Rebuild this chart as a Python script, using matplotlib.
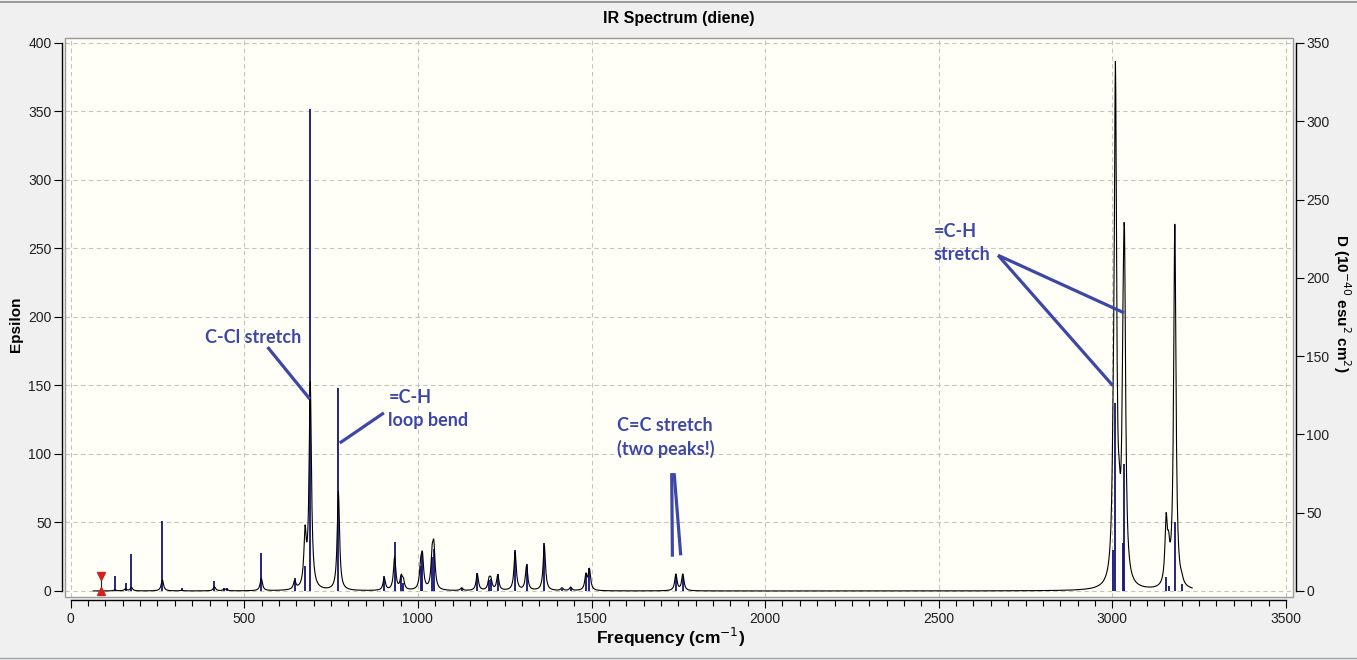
import numpy as np
import matplotlib
matplotlib.use("Agg")
import matplotlib.pyplot as plt
from matplotlib.patches import Rectangle
from matplotlib.ticker import MultipleLocator

plt.rcParams['font.family'] = ['Liberation Sans', 'DejaVu Sans']

# ---------------- data ----------------
# vibrational modes: frequency (cm^-1)
freqs = [127, 158, 175, 264, 320, 414, 442, 449, 549, 645, 675, 690, 771,
         903, 933, 952, 958, 1008, 1013, 1041, 1046, 1126, 1171, 1205, 1210,
         1230, 1280, 1313, 1364, 1415, 1440, 1484, 1494, 1743, 1763,
         3003, 3009, 3020, 3031, 3035, 3155, 3162, 3180, 3200]
# broadened-curve peak height of each mode (Epsilon)
curve_amp = [0.8, 1.5, 2.5, 8, 0.5, 3, 1, 1, 9, 6, 38, 150, 72,
             9, 24, 9, 6, 15, 22, 22, 28, 2, 12, 7, 7,
             11, 28, 18, 33, 2, 2.5, 11, 15, 12, 12,
             50, 360, 25, 100, 205, 45, 20, 265, 3]
# stick heights, dipole strength D (10^-40 esu^2 cm^2)
stick_D = [9.6, 5.3, 23.6, 44.6, 1.8, 6.1, 2.2, 2.2, 24.5, 8.3, 15.8, 308, 129.5,
           9.6, 31.5, 9.6, 5.3, 15.8, 23.6, 21.9, 27.1, 1.8, 11.4, 7.0, 7.9,
           10.9, 26.3, 17.5, 30.6, 1.3, 1.8, 11.4, 14.9, 9.6, 9.6,
           26.3, 120, 0.0, 30.6, 81, 9.2, 3.0, 43.8, 4.4]
half_width = 4.0          # cm^-1, Lorentzian half width
curve_range = (65, 3230)  # cm^-1

marker_freq = 87
marker_top = 11

x_ticks = [0, 500, 1000, 1500, 2000, 2500, 3000, 3500]
y_ticks_left = [0, 50, 100, 150, 200, 250, 300, 350, 400]
y_ticks_right = [0, 50, 100, 150, 200, 250, 300, 350]

# annotations: text, text anchor (freq, eps), line segments [(f0,e0),(f1,e1)]
ann_texts = ["C-Cl stretch", "=C-H\nloop bend", "C=C stretch\n(two peaks!)", "=C-H\nstretch"]
ann_pos = [(388, 185), (915, 133), (1574, 112), (2486, 254)]
ann_lines = [
    [[(567, 178), (689, 140)]],
    [[(902, 130), (775, 108)]],
    [[(1731, 86), (1733, 25)], [(1738, 86), (1757, 26)]],
    [[(2671, 245), (3034, 203)], [(2671, 245), (3001, 150)]],
]

# ---------------- figure ----------------
W, H = 1357, 660
fig = plt.figure(figsize=(W / 100, H / 100), dpi=100, facecolor='#F0F0F0')
L, R, T, B = 65, 1293, 38, 597
ax = fig.add_axes([L / W, (H - B) / H, (R - L) / W, (B - T) / H])
ax.set_facecolor('#FFFFF7')
ax2 = ax.twinx()

xlim = (-16.4, 3520.4)
ylim = (-4.4, 403.6)
ax.set_xlim(*xlim)
ax.set_ylim(*ylim)
ax2.set_ylim(ylim[0] * 0.875, ylim[1] * 0.875)

# curve
x = np.arange(curve_range[0], curve_range[1] + 1, 1.0)
y = np.zeros_like(x)
for f, a in zip(freqs, curve_amp):
    y += a * half_width ** 2 / ((x - f) ** 2 + half_width ** 2)

ax.grid(True, color='#C4C4C4', linestyle=(0, (4, 3)), linewidth=0.8)
ax.set_axisbelow(True)

ax2.vlines(freqs, 0, stick_D, color='#14147A', linewidth=1.3, zorder=2)
ax2.plot(x, y, color='black', linewidth=0.8, transform=ax.transData, zorder=3)

# red marker
ax2.plot([marker_freq, marker_freq], [0, marker_top], color='#222222', lw=0.8,
         transform=ax.transData, zorder=4)
ax2.plot([marker_freq], [marker_top], marker='v', color='#D02020', ms=6,
         transform=ax.transData, zorder=4, clip_on=False)
ax2.plot([marker_freq], [0], marker='^', color='#D02020', ms=6,
         transform=ax.transData, zorder=4, clip_on=False)

# annotations
acol = '#3D47A7'
for txt, (tx, ty), segs in zip(ann_texts, ann_pos, ann_lines):
    ax2.text(tx, ty, txt, transform=ax.transData, color=acol, fontsize=13,
             fontweight='bold', family=['Lato', 'DejaVu Sans'], va='center',
             ha='left', linespacing=1.4, zorder=6)
    for (f0, e0), (f1, e1) in segs:
        ax2.plot([f0, f1], [e0, e1], color=acol, lw=2.3, transform=ax.transData,
                 zorder=5, solid_capstyle='butt')

# axes styling
for s in ['top', 'right', 'left', 'bottom']:
    ax2.spines[s].set_visible(False)
ax.spines['top'].set_visible(False)
ax.spines['right'].set_visible(False)
out = 3 * 72 / 100
ax.spines['left'].set_position(('outward', out))
ax.spines['bottom'].set_position(('outward', out))
ax.spines['left'].set_bounds(0, 400)
ax.spines['bottom'].set_bounds(0, 3500)
ax2.spines['right'].set_visible(True)
ax2.spines['right'].set_position(('outward', out))
ax2.spines['right'].set_bounds(0, 350)
for sp in [ax.spines['left'], ax.spines['bottom'], ax2.spines['right']]:
    sp.set_linewidth(1.0)
    sp.set_color('black')

ax2.add_patch(Rectangle((0, 0), 1, 1, transform=ax.transAxes, fill=False,
                        edgecolor='#9A9A9A', lw=1.0, clip_on=False, zorder=10))

ax.set_xticks(x_ticks)
ax.xaxis.set_minor_locator(MultipleLocator(50))
ax.set_yticks(y_ticks_left)
ax2.set_yticks(y_ticks_right)
ax.tick_params(axis='x', which='major', length=5.5, width=0.8, labelsize=10, pad=3)
ax.tick_params(axis='x', which='minor', length=4, width=0.8)
ax.tick_params(axis='y', length=5.5, width=0.8, labelsize=10, pad=2)
ax2.tick_params(axis='y', length=5.5, width=0.8, labelsize=10, pad=2)
for lab in ax.get_xticklabels() + ax.get_yticklabels() + ax2.get_yticklabels():
    lab.set_color('#202020')

fig.text(679 / W, 1 - 19 / H, "IR Spectrum (diene)", ha='center', va='center',
         fontsize=11.5, fontweight='bold')
fig.text(671 / W, 1 - 637 / H, "Frequency (cm$^{-1}$)", ha='center', va='center',
         fontsize=12.5, fontweight='bold')
fig.text(16 / W, 1 - 324 / H, "Epsilon", ha='center', va='center', rotation=90,
         fontsize=11, fontweight='bold')
fig.text(1342 / W, 1 - 303 / H, "D (10$^{-40}$ esu$^{2}$ cm$^{2}$)", ha='center',
         va='center', rotation=-90, fontsize=11, fontweight='bold')

# window frame lines
fig.add_artist(plt.Line2D([0, 1], [1 - 2 / H, 1 - 2 / H], color='#8A8A8A', lw=1.2))
fig.add_artist(plt.Line2D([0, 1], [1 - 658 / H, 1 - 658 / H], color='#A0A0B0', lw=1.0))

fig.savefig('out.png', dpi=100, facecolor=fig.get_facecolor())
